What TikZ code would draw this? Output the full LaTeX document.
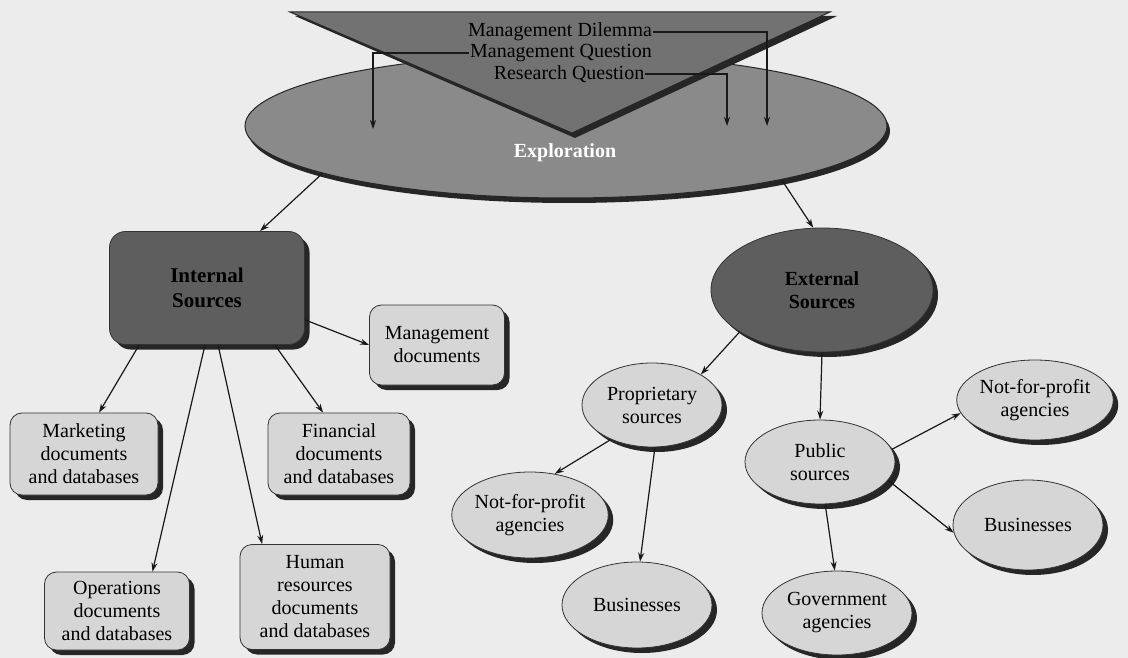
\documentclass[tikz,border=0pt]{standalone}
\usepackage{fontspec}
\setmainfont{Liberation Serif}
\usetikzlibrary{shapes.geometric,shadows,arrows.meta}
\definecolor{bgc}{HTML}{ECECEC}
\definecolor{lightn}{HTML}{D6D6D6}
\definecolor{darkn}{HTML}{5E5E5E}
\definecolor{bigell}{HTML}{8A8A8A}
\definecolor{trif}{HTML}{727272}
\tikzset{
  sh/.style={drop shadow={shadow xshift=5pt,shadow yshift=-5pt,fill=black!85,opacity=1}},
  lbox/.style={rectangle,rounded corners=12pt,draw=black!80,line width=0.8pt,fill=lightn,sh,
    align=center,font=\fontsize{20}{23}\selectfont,inner sep=0pt},
  dbox/.style={rectangle,rounded corners=16pt,draw=black!80,line width=0.8pt,fill=darkn,sh,
    align=center,font=\fontsize{21}{25}\selectfont\bfseries,inner sep=0pt},
  lell/.style={ellipse,draw=black!80,line width=0.8pt,fill=lightn,sh,
    align=center,font=\fontsize{20}{23}\selectfont,inner sep=0pt},
  dell/.style={ellipse,draw=black!80,line width=0.8pt,fill=darkn,sh,
    align=center,font=\fontsize{20}{23}\selectfont\bfseries,inner sep=0pt},
  toptxt/.style={font=\fontsize{20}{22}\selectfont,inner sep=1pt},
  arr/.style={-{Stealth[length=9pt,width=6pt]},line width=1.2pt,black!90}
}
\begin{document}
\begin{tikzpicture}[x=1pt,y=-1pt]
\fill[bgc] (0,0) rectangle (1128,658);
\useasboundingbox (0,0) rectangle (1128,658);
% big exploration ellipse
\node[ellipse,draw=black!85,line width=1pt,fill=bigell,minimum width=642pt,minimum height=144pt,
  inner sep=0pt,drop shadow={shadow xshift=3pt,shadow yshift=-5pt,fill=black!85,opacity=1}] (expl) at (566,126) {};
\node[font=\fontsize{20}{22}\selectfont\bfseries,text=white] (expltxt) at (565,153) {Exploration};
% inverted triangle
\coordinate (tl) at (290,12);
\coordinate (tr) at (830,12);
\coordinate (tb) at (572,133);
\fill[black!85] ([shift={(5,4)}]tl) -- ([shift={(7,4)}]tr) -- ([shift={(3,5)}]tb) -- cycle;
\filldraw[fill=trif,draw=black!85,line width=1pt] (tl) -- (tr) -- (tb) -- cycle;
\node[toptxt] (md) at (560,32) {Management Dilemma};
\node[toptxt] (mq) at (561,53) {Management Question};
\node[toptxt] (rq) at (569,74) {Research Question};
\coordinate (amd) at (767,126);
\coordinate (amq) at (373,129);
\coordinate (arq) at (727,126);
\draw[arr] (md.east) -| (amd);
\draw[arr] (mq.west) -| (amq);
\draw[arr] (rq.east) -| (arq);
% internal sources
\node[dbox,minimum width=195pt,minimum height=113pt] (int) at (207,288) {Internal\\Sources};
\node[lbox,minimum width=135pt,minimum height=80pt] (mgd) at (437,345) {Management\\documents};
\node[lbox,minimum width=148pt,minimum height=82pt] (mkt) at (84,454) {Marketing\\documents\\and databases};
\node[lbox,minimum width=142pt,minimum height=82pt] (fin) at (339,454) {Financial\\documents\\and databases};
\node[lbox,minimum width=145pt,minimum height=78pt] (ops) at (117,611) {Operations\\documents\\and databases};
\node[lbox,minimum width=150pt,minimum height=105pt] (hum) at (315,597) {Human\\resources\\documents\\and databases};
% external sources
\node[dell,minimum width=222pt,minimum height=124pt] (ext) at (822,290) {External\\Sources};
\node[lell,minimum width=140pt,minimum height=84pt] (prop) at (652,405) {Proprietary\\sources};
\node[lell,minimum width=150pt,minimum height=84pt] (pub) at (820,462) {Public\\sources};
\node[lell,minimum width=144pt,minimum height=80pt] (nfpr) at (1035,400) {Not-for-profit\\agencies};
\node[lell,minimum width=150pt,minimum height=90pt] (busr) at (1028,525) {Businesses};
\node[lell,minimum width=150pt,minimum height=84pt] (gov) at (837,613) {Government\\agencies};
\node[lell,minimum width=150pt,minimum height=86pt] (busb) at (637,605) {Businesses};
\node[lell,minimum width=150pt,minimum height=86pt] (nfpl) at (530,515) {Not-for-profit\\agencies};
% connectors
\draw[arr] (expl.191.5) -- (int.47.7);
\draw[arr] (expl.-14.5) -- (ext.98);
\draw[arr] (int.342) -- (mgd.west);
\draw[arr] (int.220) -- (mkt.70);
\draw[arr] (int.268) -- (ops.48.5);
\draw[arr] (int.281) -- (hum.135);
\draw[arr] (int.320) -- (fin.111);
\draw[arr] (ext.207.5) -- (prop.32);
\draw[arr] (ext.south) -- (pub.north);
\draw[arr] (prop.220) -- (nfpl.59);
\draw[arr] (prop.274) -- (busb.86);
\draw[arr] (pub.10.6) -- (nfpr.190.5);
\draw[arr] (pub.345) -- (busr.186.7);
\draw[arr] (pub.277) -- (gov.93);
\end{tikzpicture}
\end{document}
